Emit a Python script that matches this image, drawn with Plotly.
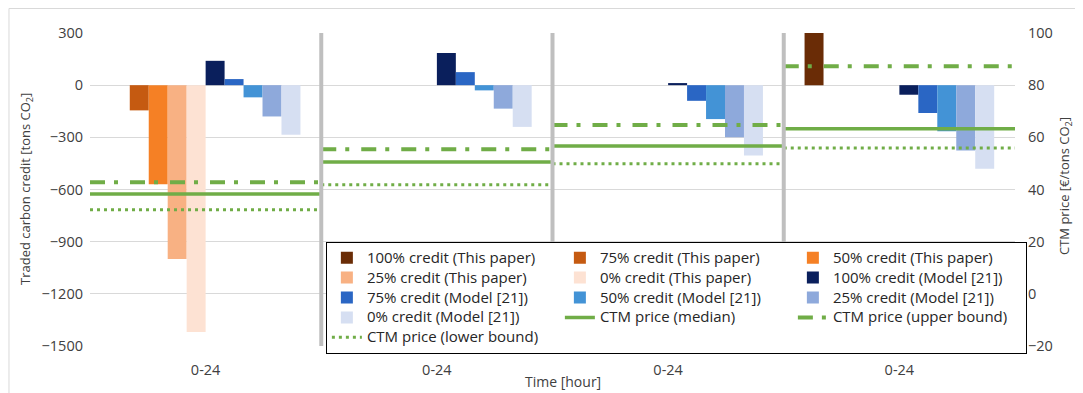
import plotly.graph_objects as go

# ---- data ----
panel_labels = ["0-24", "0-24", "0-24", "0-24"]

tp_100 = [0, 0, 0, 300]
tp_75 = [-145, 0, 0, 0]
tp_50 = [-570, 0, 0, 0]
tp_25 = [-1000, 0, 0, 0]
tp_0 = [-1420, 0, 0, 0]

m_100 = [140, 185, 12, -55]
m_75 = [35, 75, -90, -160]
m_50 = [-70, -30, -195, -265]
m_25 = [-180, -135, -300, -375]
m_0 = [-285, -240, -405, -480]

ctm_median = [38.3, 50.5, 56.7, 63.3]
ctm_upper = [42.8, 55.4, 64.7, 87.3]
ctm_lower = [32.2, 41.8, 49.9, 55.9]

bar_names = [
    "100% credit (This paper)", "75% credit (This paper)", "50% credit (This paper)",
    "25% credit (This paper)", "0% credit (This paper)",
    "100% credit (Model [21])", "75% credit (Model [21])", "50% credit (Model [21])",
    "25% credit (Model [21])", "0% credit (Model [21])",
]
line_names = ["CTM price (median)", "CTM price (upper bound)", "CTM price (lower bound)"]

bar_values = [tp_100, tp_75, tp_50, tp_25, tp_0, m_100, m_75, m_50, m_25, m_0]
bar_colors = ["#6a2c06", "#c55a11", "#f58025", "#f8b183", "#fde2d3",
              "#0a1f5c", "#2a66c4", "#4393d6", "#8ea9db", "#d6dff2"]

GREEN = "#70ad47"
FONT = "Open Sans"
TXT = "#404040"
LEG_TXT = 15


def leg(name):
    return f"<span style='font-size:{LEG_TXT}px'>{name}</span>"


x_pos = list(range(len(panel_labels)))

fig = go.Figure()
for name, vals, col in zip(bar_names, bar_values, bar_colors):
    fig.add_trace(go.Bar(x=x_pos, y=vals, name=leg(name), marker=dict(color=col, line=dict(width=0))))


def segments(vals):
    xs, ys = [], []
    for i, v in enumerate(vals):
        xs += [i - 0.5, i + 0.5, None]
        ys += [v, v, None]
    return xs, ys


line_styles = [
    dict(color=GREEN, width=3.5),
    dict(color=GREEN, width=4, dash="15px,9px,4px,12px"),
    dict(color=GREEN, width=3, dash="3px,4px"),
]
for name, vals, ln in zip(line_names, [ctm_median, ctm_upper, ctm_lower], line_styles):
    xs, ys = segments(vals)
    fig.add_trace(go.Scatter(x=xs, y=ys, name=leg(name), mode="lines", line=ln, yaxis="y2"))

# panel separators
shapes = []
for i in range(len(panel_labels) - 1):
    shapes.append(dict(type="line", xref="x", yref="paper", x0=i + 0.5, x1=i + 0.5, y0=0, y1=1,
                       line=dict(color="#bfbfbf", width=4), layer="above"))
# chart border
shapes.append(dict(type="rect", xref="paper", yref="paper", x0=-0.0876, x1=1.2, y0=-0.3, y1=1.0783,
                   line=dict(color="#d9d9d9", width=1), layer="below"))

fig.update_layout(
    template="none",
    width=1083, height=393,
    margin=dict(l=82, r=76, t=25, b=55, autoexpand=False),
    paper_bgcolor="white", plot_bgcolor="white",
    font=dict(family=FONT, size=15, color=TXT),
    barmode="group", bargap=0.18, bargroupgap=0,
    showlegend=True,
    legend=dict(orientation="h", x=0.255, xanchor="left", y=0.333, yanchor="top",
                bgcolor="white", bordercolor="black", borderwidth=1,
                entrywidth=188, entrywidthmode="pixels",
                font=dict(family=FONT, size=13, color="#262626"),
                traceorder="normal"),
    xaxis=dict(range=[-0.5, 3.5], tickvals=x_pos, ticktext=panel_labels, showgrid=False,
               zeroline=False, showline=False, ticks="", ticklabelstandoff=13, automargin=False,
               tickfont=dict(size=14.5, color=TXT)),
    yaxis=dict(range=[-1500, 300], dtick=300, tick0=0, showgrid=True, gridcolor="#d9d9d9",
               gridwidth=1, zeroline=False, showline=False, ticks="", ticklabelstandoff=6,
               automargin=False, tickfont=dict(size=14.5, color=TXT)),
    yaxis2=dict(range=[-20, 100], dtick=20, tick0=0, overlaying="y", side="right", showgrid=False,
                zeroline=False, showline=False, ticks="", ticklabelstandoff=12, automargin=False,
                tickfont=dict(size=14.5, color=TXT)),
    shapes=shapes,
    annotations=[
        dict(text="Time [hour]", xref="paper", yref="paper", x=0.511, y=-0.112,
             xanchor="center", yanchor="middle", showarrow=False,
             font=dict(size=14, color=TXT)),
        dict(text="Traded carbon credit [tons CO<sub>2</sub>]", xref="paper", yref="paper",
             x=-0.0692, y=0.5016, xanchor="center", yanchor="middle", textangle=-90,
             showarrow=False, font=dict(size=13, color=TXT)),
        dict(text="CTM price [€/tons CO<sub>2</sub>]", xref="paper", yref="paper",
             x=1.054, y=0.511, xanchor="center", yanchor="middle", textangle=-90,
             showarrow=False, font=dict(size=13, color=TXT)),
    ],
)

fig.write_html("out.html")
